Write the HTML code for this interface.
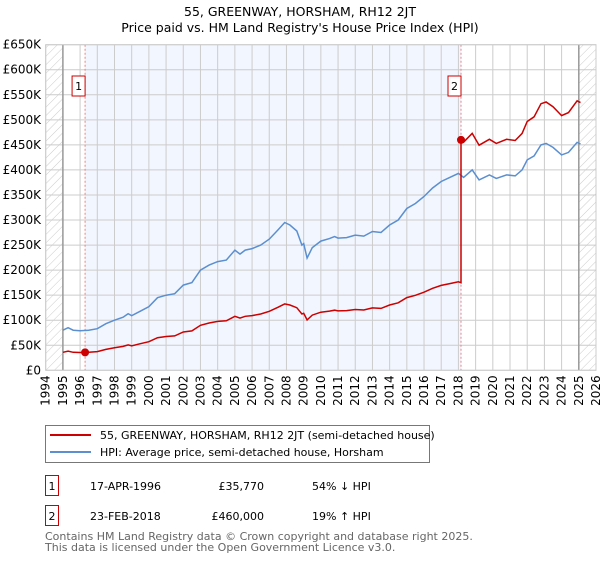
<!DOCTYPE html>
<html><head><meta charset="utf-8"><style>
body{margin:0;background:#fff;font-family:"DejaVu Sans","Liberation Sans",sans-serif;}
svg text{font-family:"DejaVu Sans","Liberation Sans",sans-serif;}
</style></head><body>
<svg id="chart" width="600" height="560" xmlns="http://www.w3.org/2000/svg">
<defs><pattern id="hatch" width="6" height="6" patternUnits="userSpaceOnUse" patternTransform="rotate(45)"><line x1="0" y1="0" x2="0" y2="6" stroke="#ccc" stroke-width="1"/></pattern></defs>
<text x="300" y="16" text-anchor="middle" font-size="12.5">55, GREENWAY, HORSHAM, RH12 2JT</text>
<text x="300" y="32" text-anchor="middle" font-size="12.5">Price paid vs. HM Land Registry's House Price Index (HPI)</text>
<g id="plot"></g>
<rect x="45.5" y="425.5" width="384" height="37" fill="#fff" stroke="#777"/>
<line x1="50" y1="435" x2="91" y2="435" stroke="#cc0000" stroke-width="2"/>
<text x="100" y="439" font-size="11">55, GREENWAY, HORSHAM, RH12 2JT (semi-detached house)</text>
<line x1="50" y1="452" x2="91" y2="452" stroke="#5b8fd0" stroke-width="2"/>
<text x="100" y="456" font-size="11">HPI: Average price, semi-detached house, Horsham</text>
<g font-size="11">
<rect x="45.5" y="475.5" width="13" height="20" fill="none" stroke="#cc0000"/><text x="52" y="490" text-anchor="middle">1</text>
<text x="90" y="490">17-APR-1996</text><text x="264" y="490" text-anchor="end">£35,770</text><text x="312" y="490">54% ↓ HPI</text></g>
<g font-size="11">
<rect x="45.5" y="505.5" width="13" height="20" fill="none" stroke="#cc0000"/><text x="52" y="520" text-anchor="middle">2</text>
<text x="90" y="520">23-FEB-2018</text><text x="264" y="520" text-anchor="end">£460,000</text><text x="312" y="520">19% ↑ HPI</text></g>
<text x="45" y="540" font-size="11" fill="#666">Contains HM Land Registry data © Crown copyright and database right 2025.</text>
<text x="45" y="551" font-size="11" fill="#666">This data is licensed under the Open Government Licence v3.0.</text>
</svg>
<script>
const hpiYears=[1995,1995.3,1995.6,1996,1996.5,1997,1997.5,1998,1998.5,1998.8,1999,1999.5,2000,2000.5,2001,2001.5,2002,2002.5,2003,2003.5,2004,2004.5,2005,2005.3,2005.6,2006,2006.5,2007,2007.5,2007.9,2008.2,2008.6,2008.9,2009,2009.2,2009.5,2010,2010.5,2010.8,2011,2011.5,2012,2012.5,2013,2013.5,2014,2014.5,2015,2015.5,2016,2016.5,2017,2017.5,2018,2018.3,2018.8,2019.2,2019.8,2020.2,2020.8,2021.3,2021.7,2022,2022.4,2022.8,2023.1,2023.5,2024,2024.4,2024.9,2025.1];
const hpiValues=[80,85,80,79,80,83,93,100,106,113,109,118,127,145,150,153,170,175,200,210,217,220,240,232,240,243,250,262,280,295,290,278,250,253,224,245,258,263,267,264,265,270,268,277,275,290,300,323,333,347,364,377,385,393,385,400,380,390,383,390,388,400,420,428,450,453,445,430,435,455,452];
const saleYears=[1996.29,2018.15];
const salePrices=[35.77,460];
const saleLabels=["1","2"];
const yTicks=[0,50,100,150,200,250,300,350,400,450,500,550,600,650];
const yTickLabels=["£0","£50K","£100K","£150K","£200K","£250K","£300K","£350K","£400K","£450K","£500K","£550K","£600K","£650K"];
const xTicks=[1994,1995,1996,1997,1998,1999,2000,2001,2002,2003,2004,2005,2006,2007,2008,2009,2010,2011,2012,2013,2014,2015,2016,2017,2018,2019,2020,2021,2022,2023,2024,2025,2026];
const X0=45.7,X1=596,Y0=370.3,Y1=44.7;
const xs=t=>X0+(t-1994)/32*(X1-X0);
const ys=v=>Y0-v/650*(Y0-Y1);
const NS="http://www.w3.org/2000/svg";
const g=document.getElementById('plot');
function mk(tag,attrs,parent){const e=document.createElementNS(NS,tag);for(const k in attrs)e.setAttribute(k,attrs[k]);(parent||g).appendChild(e);return e;}
function hpiAt(t){for(let i=0;i<hpiYears.length-1;i++){if(t<=hpiYears[i+1]){const f=(t-hpiYears[i])/(hpiYears[i+1]-hpiYears[i]);return hpiValues[i]+f*(hpiValues[i+1]-hpiValues[i]);}}return hpiValues[hpiValues.length-1];}
// shaded owned region
let r=mk('rect',{x:xs(saleYears[0]),y:Y1,width:xs(saleYears[1])-xs(saleYears[0]),height:Y0-Y1,fill:'#f2f6fe'});


r=mk('rect',{x:X0,y:Y1,width:xs(1995)-X0,height:Y0-Y1,fill:'url(#hatch)'});


r=mk('rect',{x:xs(2025),y:Y1,width:X1-xs(2025),height:Y0-Y1,fill:'url(#hatch)'});


// grid
yTicks.forEach((v,i)=>{mk('line',{x1:X0,x2:X1,y1:ys(v),y2:ys(v),stroke:'#ccc'});
const t=mk('text',{x:41,y:ys(v)+4,'text-anchor':'end','font-size':'12'});t.textContent=yTickLabels[i];

});
xTicks.forEach(yr=>{mk('line',{x1:xs(yr),x2:xs(yr),y1:Y1,y2:Y0,stroke:'#ccc'});
const t=mk('text',{x:xs(yr)+4,y:Y0+5,'text-anchor':'end','font-size':'12',transform:`rotate(-90 ${xs(yr)+4} ${Y0+5})`});t.textContent=yr;

});
mk('line',{x1:xs(1995),x2:xs(1995),y1:Y1,y2:Y0,stroke:'#999','stroke-width':1.5});
mk('line',{x1:xs(2025),x2:xs(2025),y1:Y1,y2:Y0,stroke:'#999','stroke-width':1.5});
// sale vertical dashed lines
saleYears.forEach((sy,i)=>{mk('line',{x1:xs(sy),x2:xs(sy),y1:Y1,y2:Y0,stroke:'#f08080','stroke-dasharray':'2,2'});
const b=mk('rect',{x:xs(sy)-13,y:76,width:13,height:20,fill:'#fff',stroke:'#cc0000'});


const t=mk('text',{x:xs(sy)-6.5,y:90,'text-anchor':'middle','font-size':'11'});t.textContent=saleLabels[i];});
// hpi line
let d='';hpiYears.forEach((t,i)=>{d+=(i?'L':'M')+xs(t).toFixed(1)+','+ys(hpiValues[i]).toFixed(1);});
let p=mk('path',{d:d,fill:'none',stroke:'#5b8fd0','stroke-width':1.5});


// price-paid line indexed from sales
function seg(a,b,idx){const pts=[a,...hpiYears.filter(t=>t>a&&t<b),b];return pts.map(t=>[xs(t),ys(salePrices[idx]*hpiAt(t)/hpiAt(saleYears[idx]))]);}
let pts=[...seg(1995,saleYears[1],0),...seg(saleYears[1],2025.1,1)];
d=pts.map((q,i)=>(i?'L':'M')+q[0].toFixed(1)+','+q[1].toFixed(1)).join('');
p=mk('path',{d:d,fill:'none',stroke:'#cc0000','stroke-width':1.5});


saleYears.forEach((sy,i)=>{const c=mk('circle',{cx:xs(sy),cy:ys(salePrices[i]),r:4,fill:'#cc0000'});

});
mk('rect',{x:X0,y:Y1,width:X1-X0,height:Y0-Y1,fill:'none',stroke:'#ccc'});
</script>
</body></html>
